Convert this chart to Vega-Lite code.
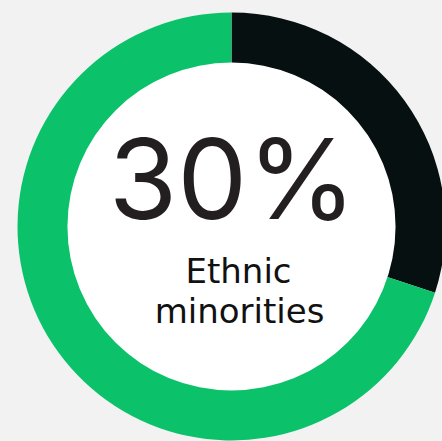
{
  "$schema": "https://vega.github.io/schema/vega-lite/v6.json",
  "width": 421,
  "height": 429,
  "autosize": {"type": "none"},
  "padding": {"left": 21, "top": 12, "right": 0, "bottom": 0},
  "background": "#f2f2f2",
  "config": {"view": {"stroke": null}},
  "layer": [
    {
      "data": {"values": [
        {"group": "Ethnic minorities", "share": 30, "rank": 1},
        {"group": "Other", "share": 70, "rank": 2}
      ]},
      "mark": {"type": "arc", "outerRadius": 214, "innerRadius": 163},
      "encoding": {
        "theta": {"field": "share", "type": "quantitative", "stack": true},
        "order": {"field": "rank", "type": "quantitative"},
        "color": {
          "field": "group", "type": "nominal",
          "scale": {"domain": ["Ethnic minorities", "Other"], "range": ["#071010", "#0bc26a"]},
          "legend": null
        }
      }
    },
    {
      "data": {"values": [{"share": 100}]},
      "mark": {"type": "arc", "outerRadius": 164, "innerRadius": 0, "fill": "#ffffff"},
      "encoding": {"theta": {"field": "share", "type": "quantitative"}}
    },
    {
      "data": {"values": [{"label": "30%"}]},
      "mark": {"type": "text", "font": "Inter", "fontSize": 111, "fontWeight": 400, "color": "#231f20", "align": "center", "baseline": "alphabetic", "dx": 1, "dy": -7.5},
      "encoding": {"text": {"field": "label"}}
    },
    {
      "data": {"values": [{"label": "Ethnic"}]},
      "mark": {"type": "text", "font": "DejaVu Sans", "fontSize": 34, "fontWeight": 400, "color": "#111111", "align": "center", "baseline": "alphabetic", "dx": 7, "dy": 56},
      "encoding": {"text": {"field": "label"}}
    },
    {
      "data": {"values": [{"label": "minorities"}]},
      "mark": {"type": "text", "font": "DejaVu Sans", "fontSize": 34, "fontWeight": 400, "color": "#111111", "align": "center", "baseline": "alphabetic", "dx": 8, "dy": 96},
      "encoding": {"text": {"field": "label"}}
    }
  ]
}
